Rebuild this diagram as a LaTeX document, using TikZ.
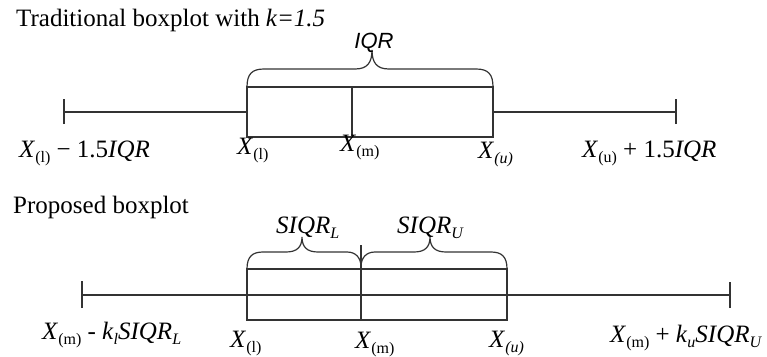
\documentclass[tikz,border=0pt]{standalone}
\usepackage{fontspec}
\setmainfont{Liberation Serif}
\newfontfamily\arialf{Liberation Sans}
\newcommand\sbs[1]{\raisebox{-0.22em}{\fontsize{16}{16}\selectfont #1}}
\newcommand\xsub[1]{\textit{X}\sbs{#1}}
\begin{document}
\begin{tikzpicture}[x=1pt,y=-1pt,
  lbl/.style={anchor=base west,inner sep=0pt,font=\fontsize{25}{29}\selectfont},
  sanslbl/.style={anchor=base,inner sep=0pt,font=\arialf\itshape\fontsize{22}{26}\selectfont},
  ln/.style={line width=1.2pt,draw=black!80}]
\useasboundingbox (0,0) rectangle (767,356);
% ---------- traditional ----------
\node[lbl] (t1) at (16,26) {Traditional boxplot with \textit{k=1.5}};
\coordinate (wl) at (64,112); \coordinate (wr) at (676,112);
\coordinate (bl) at (247,87); \coordinate (br) at (493,137);
\coordinate (bm) at (352,87); \coordinate (bmb) at (352,137);
\draw[ln] (bl) rectangle (br);
\draw[ln] (bm) -- (bmb);
\draw[ln] (wl) -- (247,112);
\draw[ln] (493,112) -- (wr);
\draw[ln] ([yshift=-12]wl) -- ([yshift=13]wl);
\draw[ln] ([yshift=-12]wr) -- ([yshift=13]wr);
\coordinate (c1) at (372,50);
\draw[ln] (bl) .. controls (247,74) and (252,69) .. (264,69) -- (355,69)
  .. controls (367,69) and (372,63) .. (c1)
  .. controls (372,63) and (377,69) .. (389,69) -- (476,69)
  .. controls (488,69) and (493,74) .. (493,87);
\node[sanslbl] (iqr) at (374,48) {IQR};
\node[lbl] (a1) at (19,157) {\xsub{(l)} {\symbol{"2212}} 1.5\textit{IQR}};
\node[lbl] (a2) at (237,154) {\xsub{(l)}};
\node[lbl] (a3) at (340,151) {\xsub{(m)}};
\node[lbl] (a4) at (478,158) {\xsub{\textit{(u)}}};
\node[lbl] (a5) at (582,157) {\xsub{(u)} + 1.5\textit{IQR}};
% ---------- proposed ----------
\node[lbl] (t2) at (13,213) {Proposed boxplot};
\coordinate (vl) at (82,295); \coordinate (vr) at (730,295);
\coordinate (pl) at (247,269); \coordinate (pr) at (507,320);
\coordinate (pm) at (361,245); \coordinate (pmb) at (361,320);
\draw[ln] (pl) rectangle (pr);
\draw[ln] (vl) -- (vr);
\draw[ln] (pm) -- (pmb);
\draw[ln] ([yshift=-13]vl) -- ([yshift=14]vl);
\draw[ln] ([yshift=-13]vr) -- ([yshift=13]vr);
\coordinate (c2) at (302,237);
\coordinate (c3) at (430,237);
\coordinate (mj) at (361,267);
\draw[ln] (pl) .. controls (247,257) and (252,252) .. (263,252) -- (286,252)
  .. controls (297,252) and (302,247) .. (c2)
  .. controls (302,247) and (307,252) .. (318,252) -- (347,252)
  .. controls (356,252) and (361,258) .. (mj);
\draw[ln] (mj) .. controls (361,258) and (366,252) .. (375,252) -- (414,252)
  .. controls (425,252) and (430,247) .. (c3)
  .. controls (430,247) and (435,252) .. (446,252) -- (491,252)
  .. controls (502,252) and (507,257) .. (507,269);
\node[lbl] (s1) at (276,233) {\textit{SIQR}\sbs{\textit{L}}};
\node[lbl] (s2) at (397,233) {\textit{SIQR}\sbs{\textit{U}}};
\node[lbl] (b1) at (42,339) {\xsub{(m)} - \textit{k}\sbs{\textit{l}}\textit{SIQR}\sbs{\textit{L}}};
\node[lbl] (b2) at (230,347) {\xsub{(l)}};
\node[lbl] (b3) at (355,348) {\xsub{(m)}};
\node[lbl] (b4) at (489,347) {\xsub{\textit{(u)}}};
\node[lbl] (b5) at (610,342) {\xsub{(m)} + \textit{k}\sbs{\textit{u}}\textit{SIQR}\sbs{\textit{U}}};
\end{tikzpicture}
\end{document}
